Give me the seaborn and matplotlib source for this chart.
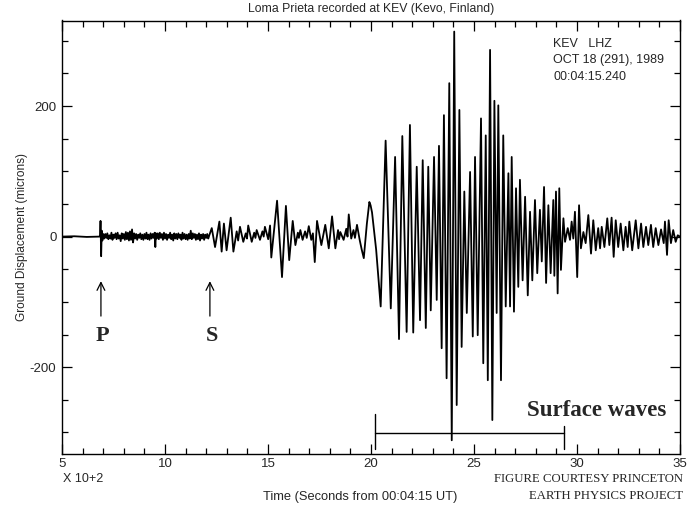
import matplotlib
matplotlib.use("Agg")
import numpy as np
import pandas as pd
import seaborn as sns
import matplotlib.pyplot as plt
from matplotlib import font_manager as fm
from matplotlib.ticker import MultipleLocator, FixedLocator

# ---------------- data (time in units of 100 s, displacement in microns) ----
t_quiet = [5.0, 5.6, 6.2, 6.82]
d_quiet = [0, 0.5, -0.5, 0]

t_p = [6.85, 6.87, 6.90, 6.93, 6.96, 7.00]
d_p = [2, 24, -30, 9, -6, 4]

t_noise = [7.05, 7.10, 7.15, 7.20, 7.25, 7.30, 7.35, 7.40, 7.45, 7.50,
           7.55, 7.60, 7.65, 7.70, 7.75, 7.80, 7.85, 7.90, 7.95, 8.00,
           8.05, 8.10, 8.15, 8.20, 8.25, 8.30, 8.35, 8.40, 8.45, 8.50,
           8.55, 8.60, 8.65, 8.70, 8.75, 8.80, 8.85, 8.90, 8.95, 9.00,
           9.05, 9.10, 9.15, 9.20, 9.25, 9.30, 9.35, 9.40, 9.45, 9.50,
           9.53, 9.56, 9.60, 9.65, 9.70, 9.75, 9.80, 9.85, 9.90, 9.95,
           10.00, 10.05, 10.10, 10.15, 10.20, 10.25, 10.30, 10.35, 10.40, 10.45,
           10.50, 10.55, 10.60, 10.65, 10.70, 10.75, 10.80, 10.85, 10.90, 10.95,
           11.00, 11.05, 11.10, 11.15, 11.20, 11.25, 11.30, 11.35, 11.40, 11.45,
           11.50, 11.55, 11.60, 11.65, 11.70, 11.75, 11.80, 11.85, 11.90, 11.95,
           12.00, 12.05, 12.10, 12.15]
d_noise = [-3, 4, -2, 5, -4, 2, -3, 6, -5, 3,
           -2, 5, -4, 6, -3, 2, -7, 5, -3, 4,
           -5, 7, -4, 6, -6, 8, -5, 11, -9, 5,
           -3, 4, -5, 3, -2, 5, -4, 3, -5, 4,
           -3, 6, -4, 3, -5, 5, -3, 4, -2, 6,
           -16, 5, -3, 5, -4, 6, -2, 4, -5, 6,
           -3, 4, -5, 3, -2, 6, -4, 3, -6, 5,
           -3, 4, -4, 5, -2, 3, -5, 6, -3, 4,
           -4, 3, -5, 4, -3, 9, -4, 5, -2, 4,
           -5, 3, -4, 5, -6, 3, -3, 4, -5, 3,
           -2, 4, -3, 2]

t_s = [12.27, 12.43, 12.64, 12.75, 12.86, 12.99, 13.19, 13.32, 13.48, 13.55,
       13.64, 13.80, 13.92, 13.98, 14.04, 14.21, 14.33, 14.39, 14.45, 14.61,
       14.73, 14.79, 14.85, 15.01, 15.10, 15.16, 15.44, 15.68, 15.87, 16.03,
       16.20, 16.33, 16.45, 16.50, 16.57, 16.68, 16.80, 16.88, 16.98, 17.10,
       17.18, 17.27, 17.38, 17.59, 17.78, 17.95, 18.11, 18.27, 18.40, 18.45,
       18.51, 18.67, 18.80, 18.86, 18.92, 19.04, 19.15, 19.22, 19.32, 19.45,
       19.55, 19.65, 19.80, 19.92, 19.98, 20.05, 20.25]
d_s = [13, -16, 23, -23, 20, -21, 29, -23, 8, -6,
       15, -8, 5, -3, 17, -8, 6, -2, 10, -5,
       8, 0, 15, -4, 17, -32, 55, -62, 47, -36,
       24, -13, 6, -2, 10, -5, 8, -2, 16, -5,
       5, -39, 24, -13, 18, -18, 31, -18, 10, -4,
       7, -5, 12, 0, 34, -3, 10, -2, 18, -5,
       -20, -33, 20, 53, 48, 37, -20]

t_surf = [20.47, 20.71, 20.96, 21.17, 21.36, 21.52, 21.73, 21.89, 22.05, 22.22,
          22.38, 22.51, 22.66, 22.78, 22.90, 23.06, 23.19, 23.30, 23.43, 23.54,
          23.67, 23.80, 23.92, 24.04, 24.16, 24.29, 24.40, 24.53, 24.65, 24.81,
          24.94, 25.05, 25.18, 25.34, 25.45, 25.57, 25.67, 25.78, 25.89, 25.99,
          26.10, 26.18, 26.31, 26.42, 26.54, 26.67, 26.75, 26.83, 26.94, 27.04,
          27.15, 27.23, 27.36, 27.48, 27.61, 27.72, 27.83, 27.96, 28.07, 28.20,
          28.29, 28.40, 28.50, 28.61, 28.72, 28.85, 28.90, 28.98, 29.06, 29.14,
          29.22]
d_surf = [-107, 147, -110, 122, -157, 154, -146, 171, -147, 107,
          -128, 117, -140, 107, -113, 122, -97, 139, -171, 186,
          -217, 235, -312, 314, -258, 194, -169, 69, -117, 99,
          -153, 122, -151, 181, -194, 155, -220, 286, -281, 208,
          -117, 201, -220, 155, -107, 97, -107, 122, -115, 74,
          -77, 87, -67, 61, -90, 38, -67, 56, -56, 41,
          -38, 76, -71, 48, -56, 56, -60, 69, -87, 74,
          -51]

t_coda = [29.34, 29.42, 29.55, 29.66, 29.74, 29.82, 29.90, 30.01, 30.10, 30.19,
          30.31, 30.42, 30.55, 30.68, 30.79, 30.91, 31.03, 31.12, 31.20, 31.33,
          31.47, 31.57, 31.68, 31.78, 31.88, 32.00, 32.12, 32.25, 32.36, 32.46,
          32.54, 32.68, 32.85, 32.98, 33.11, 33.22, 33.35, 33.46, 33.59, 33.70,
          33.82, 33.95, 34.08, 34.21, 34.27, 34.37, 34.45, 34.56, 34.67, 34.79,
          34.89, 35.0]
d_coda = [28, -8, 13, -5, 23, -3, 38, -62, 48, -18,
          7, -10, 33, -26, 25, -21, 13, -18, 15, -16,
          28, -13, 29, -31, 25, -16, 20, -21, 15, -16,
          23, -21, 25, -18, 20, -16, 15, -13, 18, -16,
          13, -13, 11, -10, 23, -28, 25, -10, 10, -8,
          2, 0]

x_ticks = [5, 10, 15, 20, 25, 30, 35]
y_ticks = [-200, 0, 200]

title = "Loma Prieta recorded at KEV (Kevo, Finland)"
info_lines = ["KEV   LHZ", "OCT 18 (291), 1989", "00:04:15.240"]

# ---------------- assemble ----------------
segments = [(t_quiet, d_quiet), (t_p, d_p), (t_noise, d_noise), (t_s, d_s),
            (t_surf, d_surf), (t_coda, d_coda)]
df = pd.concat([pd.DataFrame({"t": t, "d": d}) for t, d in segments],
               ignore_index=True)

# ---------------- style ----------------
sns.set_style("ticks")
names = {f.name for f in fm.fontManager.ttflist}
sans = "Liberation Sans" if "Liberation Sans" in names else "DejaVu Sans"
serif = "Liberation Serif" if "Liberation Serif" in names else "DejaVu Serif"
plt.rcParams["font.family"] = [sans, "DejaVu Sans"]
plt.rcParams["axes.edgecolor"] = "black"
plt.rcParams["axes.linewidth"] = 1.0

fig = plt.figure(figsize=(7.0, 5.11), dpi=100)
L, R, T, B = 62 / 700, 680 / 700, 1 - 20.5 / 511, 1 - 454 / 511
ax = fig.add_axes([L, B, R - L, T - B])

sns.lineplot(data=df, x="t", y="d", sort=False, estimator=None,
             color="black", linewidth=1.3, ax=ax)

ax.set_xlim(5, 35)
ax.set_ylim(-333, 331)
ax.xaxis.set_major_locator(FixedLocator(x_ticks))
ax.xaxis.set_minor_locator(MultipleLocator(1))
ax.yaxis.set_major_locator(FixedLocator(y_ticks))
ax.yaxis.set_minor_locator(MultipleLocator(50))
ax.set_xticklabels([str(v) for v in x_ticks])
ax.set_yticklabels([str(v) for v in y_ticks])
ax.tick_params(which="both", direction="in", top=True, right=True,
               color="black", width=0.9, labelsize=9.5)
ax.tick_params(which="major", length=7, pad=3)
ax.tick_params(axis="y", which="major", pad=4)
ax.tick_params(which="minor", length=4.5)
ax.set_xlabel("")
ax.set_ylabel("")

# ---------------- annotations ----------------
fig.text(0.530, 1 - 9 / 511, title, ha="center", va="center", fontsize=8.8)
fig.text(22 / 700, 1 - 237 / 511, "Ground Displacement (microns)",
         rotation=90, ha="center", va="center", fontsize=8.6)
fig.text(360 / 700, 1 - 497 / 511, "Time (Seconds from 00:04:15 UT)",
         ha="center", va="center", fontsize=9.3)
fig.text(63 / 700, 1 - 479 / 511, "X 10+2", ha="left", va="center", fontsize=9)
fig.text(683 / 700, 1 - 479 / 511, "FIGURE COURTESY PRINCETON", ha="right",
         va="center", fontsize=9.2, family=serif)
fig.text(683 / 700, 1 - 496 / 511, "EARTH PHYSICS PROJECT", ha="right",
         va="center", fontsize=9.2, family=serif)

for i, line in enumerate(info_lines):
    fig.text(553 / 700, 1 - (44 + 16.5 * i) / 511, line, ha="left",
             va="center", fontsize=9)

# phase arrows and labels
for xa, lab in [(6.89, "P"), (12.18, "S")]:
    ax.annotate("", xy=(xa, -64), xytext=(xa, -126),
                arrowprops=dict(arrowstyle="->", lw=0.9, color="black",
                                mutation_scale=14))
    ax.text(xa + 0.08, -152, lab, ha="center", va="center", fontsize=16,
            fontweight="bold", family=serif)

# surface-wave bracket
br_x0, br_x1, br_y = 20.2, 29.37, -301
ax.plot([br_x0, br_x1], [br_y, br_y], color="black", lw=1.0)
ax.plot([br_x0, br_x0], [-272, -325], color="black", lw=1.0)
ax.plot([br_x1, br_x1], [-290, -325], color="black", lw=1.0)
ax.text(30.95, -266, "Surface waves", ha="center", va="center",
        fontsize=16.5, fontweight="bold", family=serif)

fig.savefig("out.png", dpi=100, facecolor="white")
